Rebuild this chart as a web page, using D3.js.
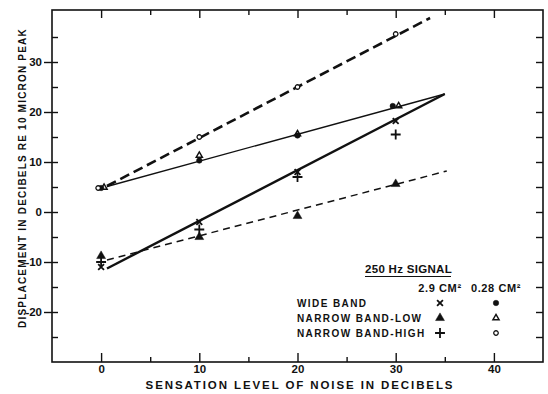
<!DOCTYPE html>
<html><head><meta charset="utf-8">
<script src="https://cdn.jsdelivr.net/npm/d3@7"></script>
<style>
body{margin:0;background:#fff}
svg text{font-family:"Liberation Sans",Arial,sans-serif;font-weight:bold;fill:#111}
</style>
</head><body>
<svg id="c" width="548" height="394"></svg>
<script>
// ---- data ----
const xMajorTicks=[0,10,20,30,40];
const xMinorTicks=[5,15,25,35];
const yMajorTicks=[-20,-10,0,10,20,30];
const yAllTicks=[-25,-20,-15,-10,-5,0,5,10,15,20,25,30,35];
const noiseX=[0,10,20,30];
// 2.9 cm2
const wide29=[-11,-2,8,18.2];
const narrowLow29=[-8.8,-5,-0.8,5.6];
const narrowHigh29=[-10,-3.5,7,15.5];
// 0.28 cm2
const wide028X=[0,10,20,29.7];
const wide028=[4.8,10.3,15.3,21.2];
const narrowLow028X=[0.3,10,20,30.3];
const narrowLow028=[4.9,11.3,15.6,21.2];
const narrowHigh028X=[-0.3,10,20,30];
const narrowHigh028=[4.8,15,25,35.6];
// fitted lines: [x0,y0,x1,y1]
const fitHighDashed=[0.6,5.2,33.5,38.8];
const fitThinSolid=[0.6,5.1,35,23.6];
const fitHeavySolid=[0.6,-11.3,35,23.6];
const fitThinDashed=[0.6,-9.6,35.2,8.2];
const legendRows=["WIDE BAND","NARROW BAND-LOW","NARROW BAND-HIGH"];
const legendCols=["2.9 CM²","0.28 CM²"];

// ---- scales ----
const svg=d3.select("#c");
const x=d3.scaleLinear().domain([-5,45]).range([52,543]);
const y=d3.scaleLinear().domain([-30,40]).range([362,12]);
const fTop=10,fBottom=362,fLeft=52,fRight=543;

// frame
svg.append("rect").attr("x",fLeft).attr("y",fTop).attr("width",fRight-fLeft).attr("height",fBottom-fTop)
  .attr("fill","none").attr("stroke","#111").attr("stroke-width",1.6);

function styleAxis(g){g.select(".domain").remove();g.selectAll("line").attr("stroke","#111").attr("stroke-width",1.4);
  g.attr("font-family",null).attr("font-size",null);}
const fmt=d=>String(d).replace("−","-");

// left: outward major with labels, inward all
svg.append("g").attr("transform",`translate(${fLeft},0)`)
  .call(d3.axisLeft(y).tickValues(yMajorTicks).tickSize(8).tickPadding(2).tickFormat(fmt))
  .call(styleAxis).selectAll("text").style("font-size","11.5px");
svg.append("g").attr("transform",`translate(${fLeft},0)`)
  .call(d3.axisLeft(y).tickValues(yAllTicks).tickSize(-6).tickFormat(""))
  .call(styleAxis);
// right
svg.append("g").attr("transform",`translate(${fRight},0)`)
  .call(d3.axisRight(y).tickValues(yAllTicks).tickSize(-7).tickFormat(""))
  .call(styleAxis);
// bottom
svg.append("g").attr("transform",`translate(0,${fBottom})`)
  .call(d3.axisBottom(x).tickValues(xMajorTicks).tickSize(-9).tickPadding(3).tickFormat(fmt))
  .call(styleAxis).selectAll("text").style("font-size","11.5px");
svg.append("g").attr("transform",`translate(0,${fBottom})`)
  .call(d3.axisBottom(x).tickValues(xMinorTicks).tickSize(-5).tickFormat(""))
  .call(styleAxis);
// top
svg.append("g").attr("transform",`translate(0,${fTop})`)
  .call(d3.axisTop(x).tickValues(xMajorTicks).tickSize(-8).tickFormat(""))
  .call(styleAxis);
svg.append("g").attr("transform",`translate(0,${fTop})`)
  .call(d3.axisTop(x).tickValues(xMinorTicks).tickSize(-5).tickFormat(""))
  .call(styleAxis);

// axis titles
svg.append("text").attr("x",300).attr("y",389).attr("text-anchor","middle")
  .style("font-size","11.5px").style("letter-spacing","1.9px").text("SENSATION LEVEL OF NOISE IN DECIBELS");
svg.append("text").attr("transform","translate(26,178) rotate(-90)").attr("text-anchor","middle")
  .style("font-size","10px").style("letter-spacing","1.2px").text("DISPLACEMENT IN DECIBELS RE 10 MICRON PEAK");

// fit lines
function fit(a,w,dash){svg.append("line").attr("x1",x(a[0])).attr("y1",y(a[1])).attr("x2",x(a[2])).attr("y2",y(a[3]))
  .attr("stroke","#111").attr("stroke-width",w).attr("stroke-dasharray",dash).attr("stroke-linecap","butt");}
fit(fitHighDashed,2.6,"10,5");
fit(fitThinSolid,1.3,null);
fit(fitHeavySolid,2.4,null);
fit(fitThinDashed,1.5,"7,5");

// markers
const sym=(type,size,fill,stroke,sw)=>(g,px,py)=>g.append("path").attr("transform",`translate(${px},${py})`)
  .attr("d",d3.symbol(type,size)()).attr("fill",fill).attr("stroke",stroke).attr("stroke-width",sw||0);
const mX=sym(d3.symbolTimes,24,"none","#111",1.8);
const mTriF=sym(d3.symbolTriangle,34,"#111","#111",0.5);
const mPlus=sym(d3.symbolPlus,34,"none","#111",1.8);
const mDot=sym(d3.symbolCircle,24,"#111","#111",0.5);
const mTriO=sym(d3.symbolTriangle2,28,"none","#111",1.4);
const mCirc=sym(d3.symbolCircle,16,"#fff","#111",1.3);
function series(xs,ys,m){xs.forEach((v,i)=>m(svg,x(v),y(ys[i])));}
series(noiseX,narrowLow29,mTriF);
series(noiseX,narrowHigh29,mPlus);
series(noiseX,wide29,mX);
series(wide028X,wide028,mDot);
series(narrowLow028X,narrowLow028,mTriO);
series(narrowHigh028X,narrowHigh028,mCirc);

// legend
svg.append("text").attr("x",365).attr("y",273).style("font-size","11.5px").style("letter-spacing","0.3px").text("250 Hz SIGNAL");
svg.append("line").attr("x1",365).attr("x2",451).attr("y1",276.5).attr("y2",276.5).attr("stroke","#111").attr("stroke-width",1.2);
const colX=[440,496];
legendCols.forEach((t,i)=>svg.append("text").attr("x",colX[i]).attr("y",292).attr("text-anchor","middle")
  .style("font-size","11px").style("letter-spacing","0.6px").text(t));
const rowY=[307,322,337];
legendRows.forEach((t,i)=>svg.append("text").attr("x",297).attr("y",rowY[i]).style("font-size","10px").style("letter-spacing","1.4px").text(t));
const legMarks=[[mX,mDot],[mTriF,mTriO],[mPlus,mCirc]];
legMarks.forEach((r,i)=>r.forEach((m,j)=>m(svg,colX[j],rowY[i]-4)));
</script>
</body></html>
